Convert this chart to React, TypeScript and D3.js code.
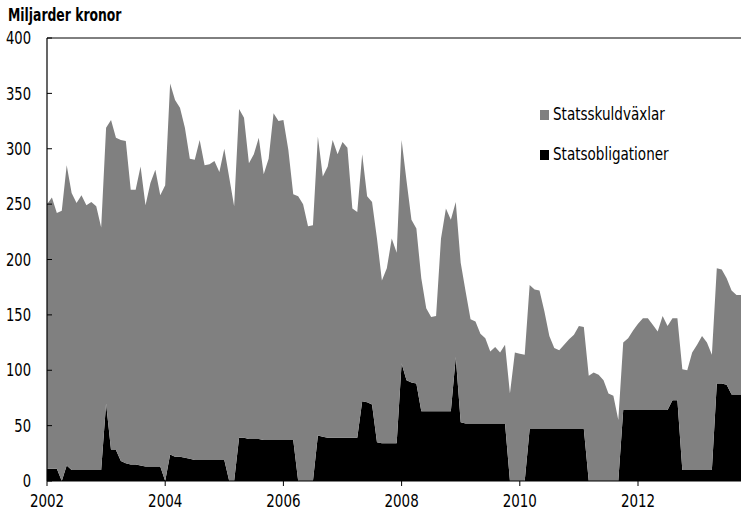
import React from 'react';
import * as d3 from 'd3';

const startYear = 2002;
const xTickYears = [2002, 2004, 2006, 2008, 2010, 2012];
const yTicks = [0, 50, 100, 150, 200, 250, 300, 350, 400];
const yAxisTitle = 'Miljarder kronor';
const seriesNames = ['Statsskuldväxlar', 'Statsobligationer'];

// Monthly values, Jan 2002 – Oct 2013 (billion SEK)
const statsobligationer = [
  11, 11, 11, 0, 14, 10, 10, 10, 10, 10, 10, 10,
  70, 28, 28, 18, 16, 15, 15, 14, 13, 13, 13, 13,
  0, 24, 22, 22, 21, 20, 19, 19, 19, 19, 19, 19,
  19, 0, 0, 39, 39, 38, 38, 38, 37, 37, 37, 37,
  37, 37, 37, 0, 0, 0, 0, 41, 40, 39, 39, 39,
  39, 39, 39, 39, 72, 71, 69, 35, 34, 34, 34, 34,
  106, 91, 89, 88, 63, 63, 63, 63, 63, 63, 63, 112,
  53, 52, 52, 52, 52, 52, 52, 52, 52, 52, 0, 0,
  0, 0, 47, 47, 47, 47, 47, 47, 47, 47, 47, 47,
  47, 47, 0, 0, 0, 0, 0, 0, 0, 64, 64, 64,
  64, 64, 64, 64, 64, 64, 64, 73, 73, 10, 10, 10,
  10, 10, 10, 10, 88, 88, 87, 78, 78, 78,
];

const statsskuldvaxlar = [
  239, 245, 231, 244, 271, 250, 241, 248, 239, 242, 238, 219,
  249, 298, 282, 290, 291, 248, 248, 270, 236, 256, 268, 245,
  267, 335, 322, 315, 298, 271, 271, 289, 266, 267, 270, 260,
  281, 274, 248, 297, 289, 249, 257, 272, 240, 254, 295, 288,
  289, 262, 222, 257, 250, 230, 231, 270, 235, 245, 269, 256,
  267, 262, 207, 204, 223, 186, 183, 184, 147, 158, 185, 172,
  202, 180, 147, 140, 120, 93, 85, 86, 156, 183, 173, 140,
  144, 119, 94, 92, 81, 77, 65, 69, 64, 71, 79, 116,
  115, 114, 130, 126, 125, 106, 84, 73, 71, 76, 81, 85,
  93, 92, 95, 98, 96, 91, 79, 77, 55, 61, 65, 72,
  78, 83, 83, 77, 71, 85, 76, 74, 74, 91, 90, 106,
  113, 121, 115, 104, 104, 103, 96, 94, 90, 90,
];

const FONT = '"Liberation Sans Narrow", "DejaVu Sans Condensed", "Roboto Condensed", "Arial Narrow", sans-serif';

function CText(props: {
  x: number;
  y: number;
  sx: number;
  size: number;
  anchor?: string;
  weight?: string;
  dy?: string;
  children: React.ReactNode;
}) {
  const { x, y, sx, size, anchor, weight, dy, children } = props;
  return (
    <text
      transform={`translate(${x},${y}) scale(${sx},1)`}
      textAnchor={anchor || 'start'}
      fontSize={size}
      fontWeight={weight || 'normal'}
      dy={dy}
      fill="#000"
    >
      {children}
    </text>
  );
}

export default function App() {
  const W = 742;
  const H = 514;
  const left = 47;
  const right = 741;
  const top = 38;
  const bottom = 481;

  const x = d3.scaleLinear().domain([2002, 2012]).range([47, 638]);
  const y = d3.scaleLinear().domain([0, 400]).range([bottom, top]);

  const rows = statsobligationer.map((b, i) => ({
    t: startYear + i / 12,
    obl: b,
    vax: statsskuldvaxlar[i],
  }));
  const stacked = d3.stack<any>().keys(['obl', 'vax'])(rows);
  const area = d3
    .area<any>()
    .x((d: any) => x(d.data.t))
    .y0((d: any) => y(d[0]))
    .y1((d: any) => y(d[1]));

  const colors = ['#000000', '#808080'];

  return (
    <svg
      width={W}
      height={H}
      style={{ position: 'absolute', left: 0, top: 0, background: '#fff' }}
      fontFamily={FONT}
    >
      <defs>
        <clipPath id="plot">
          <rect x={left} y={top} width={right - left} height={bottom - top + 1} />
        </clipPath>
      </defs>
      <g clipPath="url(#plot)">
        {stacked.map((s, i) => (
          <path key={i} d={area(s as any) || ''} fill={colors[i]} />
        ))}
      </g>
      {/* frame */}
      <line x1={left} x2={right} y1={top} y2={top} stroke="#000" strokeWidth={1} />
      <line x1={left} x2={left} y1={top} y2={bottom} stroke="#000" strokeWidth={1.2} />
      <line x1={left} x2={right} y1={bottom} y2={bottom} stroke="#000" strokeWidth={1} />
      {/* y ticks */}
      {yTicks.map((v) => (
        <g key={v}>
          <line x1={left} x2={left + 5} y1={y(v)} y2={y(v)} stroke="#000" strokeWidth={1} />
          <CText x={31} y={y(v)} dy="0.36em" anchor="end" size={17} sx={0.86}>
            {v}
          </CText>
        </g>
      ))}
      {/* x ticks */}
      {xTickYears.map((yr) => (
        <g key={yr}>
          <line x1={x(yr)} x2={x(yr)} y1={bottom} y2={bottom + 5} stroke="#000" strokeWidth={1} />
          <CText x={x(yr)} y={507} anchor="middle" size={17} sx={0.88}>
            {yr}
          </CText>
        </g>
      ))}
      <CText x={8} y={21} size={17} weight="bold" sx={0.81}>
        {yAxisTitle}
      </CText>
      {/* legend */}
      <rect x={540} y={110} width={9} height={10} fill={colors[1]} />
      <CText x={553} y={120} size={17} sx={0.885}>
        {seriesNames[0]}
      </CText>
      <rect x={540} y={150} width={9} height={10} fill={colors[0]} />
      <CText x={553} y={160} size={17} sx={0.885}>
        {seriesNames[1]}
      </CText>
    </svg>
  );
}
